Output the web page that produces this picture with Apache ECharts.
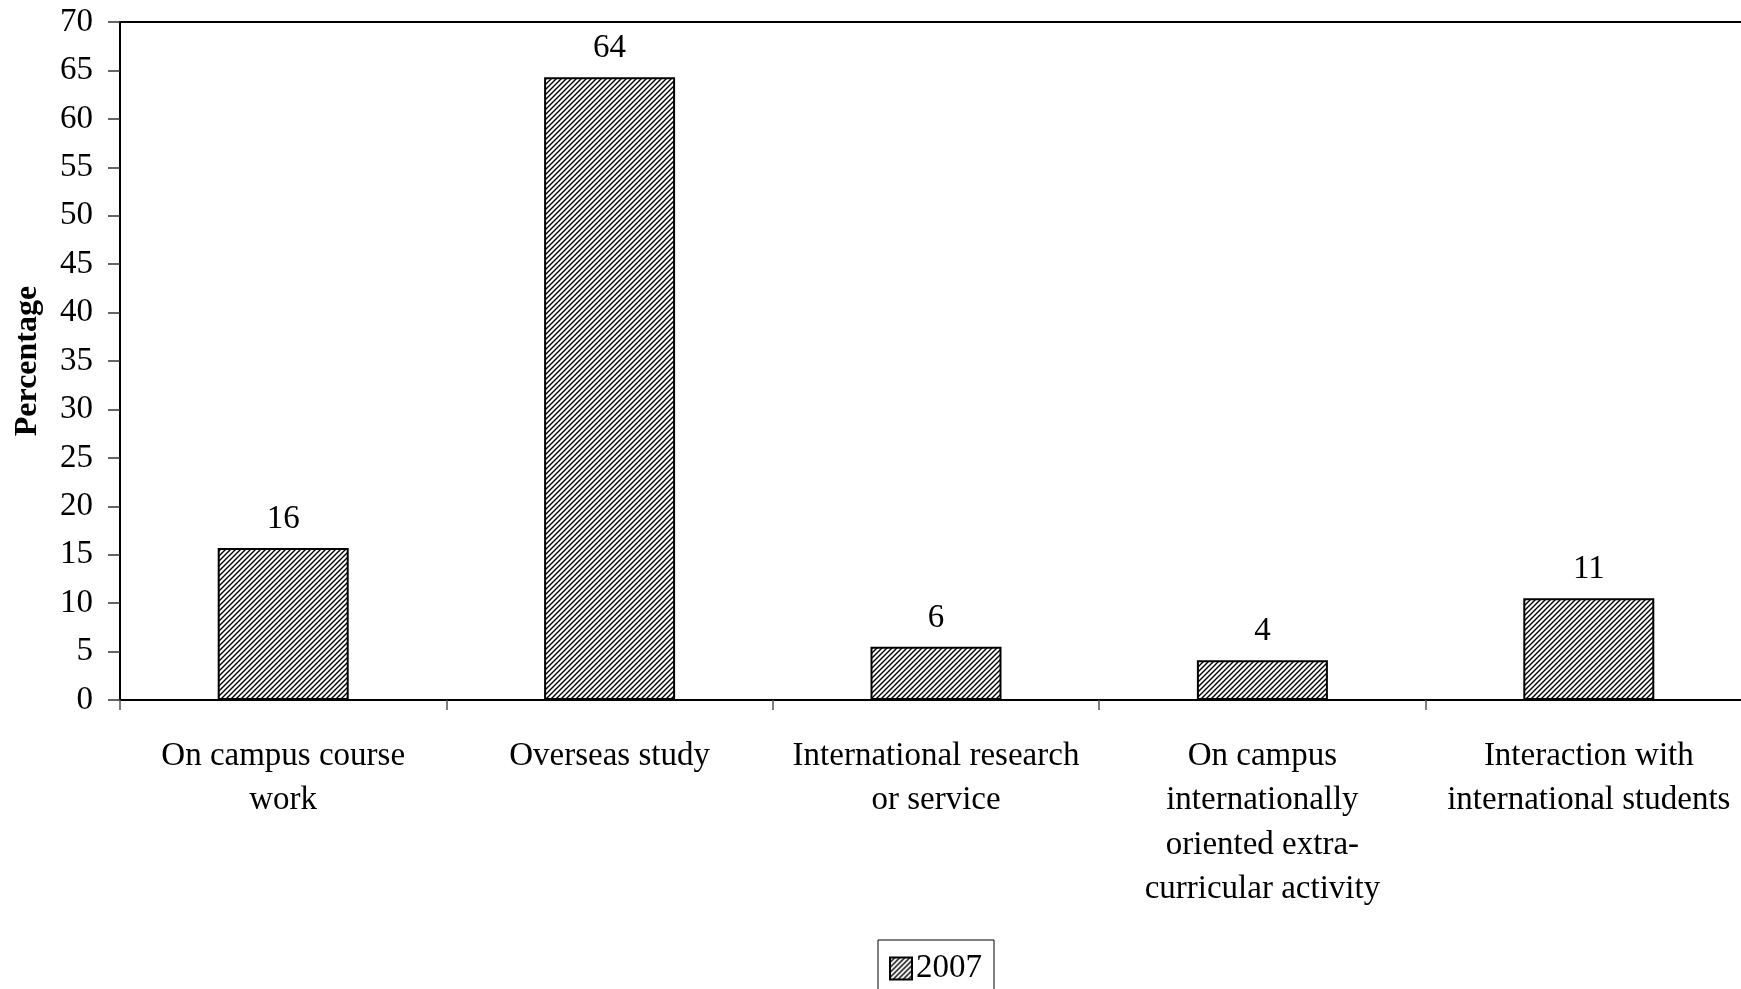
<!DOCTYPE html>
<html>
<head>
<meta charset="utf-8">
<style>
  html, body { margin: 0; padding: 0; background: #fff; }
  #chart { width: 1741px; height: 989px; }
</style>
<script src="https://cdn.jsdelivr.net/npm/echarts@6/dist/echarts.min.js"></script>
</head>
<body>
<div id="chart"></div>
<script>
const categories = [
  "On campus course\nwork",
  "Overseas study",
  "International research\nor service",
  "On campus\ninternationally\noriented extra-\ncurricular activity",
  "Interaction with\ninternational students"
];
const values2007 = [15.7, 64.3, 5.5, 4.1, 10.5];
const labels2007 = ["16", "64", "6", "4", "11"];
const yTicks = { min: 0, max: 70, interval: 5 };
const seriesName = "2007";

function makeHatch() {
  const s = 5;
  const c = document.createElement('canvas');
  c.width = s; c.height = s;
  const g = c.getContext('2d');
  g.fillStyle = '#fff';
  g.fillRect(0, 0, s, s);
  g.strokeStyle = '#000';
  g.lineWidth = 1.4;
  g.beginPath();
  g.moveTo(-1, s + 1); g.lineTo(s + 1, -1);
  g.moveTo(-1, 1); g.lineTo(1, -1);
  g.moveTo(s - 1, s + 1); g.lineTo(s + 1, s - 1);
  g.stroke();
  return c;
}

const FONT = "'Liberation Serif', 'Times New Roman', serif";
const chart = echarts.init(document.getElementById('chart'), null, { renderer: 'canvas' });
const hatch = { image: makeHatch(), repeat: 'repeat' };

chart.setOption({
  animation: false,
  backgroundColor: '#fff',
  textStyle: { fontFamily: FONT, color: '#000' },
  grid: {
    left: 120, top: 22, width: 1632, bottom: 289,
    outerBoundsMode: 'none', containLabel: false,
    show: true, borderColor: '#000', borderWidth: 2, backgroundColor: 'transparent'
  },
  legend: {
    show: true,
    data: [seriesName],
    left: 878, top: 940,
    icon: 'rect',
    itemWidth: 22, itemHeight: 22, itemGap: 7,
    padding: [12, 12, 12, 11],
    borderColor: '#000', borderWidth: 1,
    textStyle: { fontFamily: FONT, fontSize: 33, color: '#000', padding: [0, 0, 0, -1] }
  },
  xAxis: {
    type: 'category',
    data: categories,
    axisLine: { show: true, lineStyle: { color: '#000', width: 2 } },
    axisTick: { show: true, length: 10, lineStyle: { color: '#555', width: 1.5 } },
    axisLabel: {
      interval: 0, margin: 34,
      fontFamily: FONT, fontSize: 33, lineHeight: 44.5, color: '#000', align: 'center'
    },
    splitLine: { show: false }
  },
  yAxis: {
    type: 'value',
    min: yTicks.min, max: yTicks.max, interval: yTicks.interval,
    name: 'Percentage',
    nameLocation: 'middle', nameRotate: 90, nameGap: 76,
    nameTextStyle: { fontFamily: FONT, fontSize: 32, fontWeight: 'bold', color: '#000' },
    axisLine: { show: true, lineStyle: { color: '#000', width: 2 } },
    axisTick: { show: true, length: 12, lineStyle: { color: '#333', width: 1.5 } },
    axisLabel: { margin: 27, fontFamily: FONT, fontSize: 33, color: '#000' },
    splitLine: { show: false }
  },
  series: [{
    name: seriesName,
    type: 'bar',
    data: values2007,
    barWidth: 131,
    itemStyle: { color: hatch, borderColor: '#000', borderWidth: 2 },
    label: {
      show: true, position: 'top', distance: 12,
      fontFamily: FONT, fontSize: 33, color: '#000',
      formatter: p => labels2007[p.dataIndex]
    },
    emphasis: { disabled: true }
  }]
});
</script>
</body>
</html>
